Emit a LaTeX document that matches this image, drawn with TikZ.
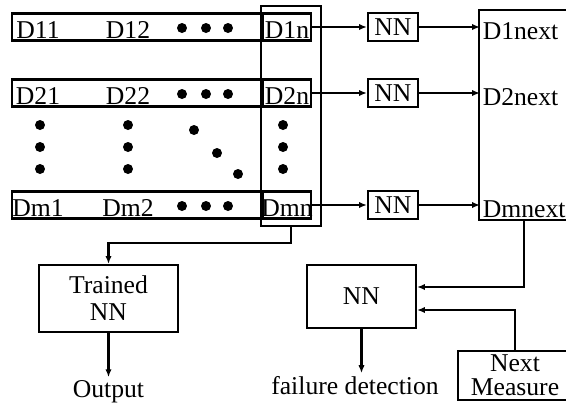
\documentclass[tikz,border=0pt]{standalone}
\usepackage{fontspec}
\setmainfont{Liberation Serif}
\usetikzlibrary{arrows.meta}
\newcommand{\lbfont}{\fontsize{14.6pt}{17pt}\selectfont}
\tikzset{
  rowbox/.style={draw, rectangle, minimum width=5.02cm, minimum height=0.54cm, inner sep=0pt},
  endbox/.style={draw, rectangle, minimum width=0.96cm, minimum height=0.54cm, inner sep=0pt},
  nnbox/.style={draw, rectangle, minimum width=1.0cm, minimum height=0.56cm, inner sep=0pt, font=\lbfont},
  box/.style={draw, rectangle, align=center, inner sep=0pt},
  cell/.style={anchor=base, inner sep=0pt, font=\lbfont},
  lbl/.style={inner sep=1pt, font=\lbfont},
  arr/.style={-{Latex[length=4.5pt,width=3.6pt]}},
}

\begin{document}
\begin{tikzpicture}[x=0.02cm, y=-0.02cm, line width=1.2pt]
\useasboundingbox (0,0) rectangle (566,407);
% last column and the predicted values
\node[draw, minimum width=1.2cm, minimum height=4.4cm, inner sep=0pt] (col) at (291,116) {};
\draw (567,10) -| (479,220) -- (567,220);
\foreach \rw/\yy in {1/27, 2/93, m/205} {
  \node[rowbox] (row\rw) at (137.5,\yy) {};
  \node[endbox] (dn\rw) at (287,\yy) {};
  \node[cell] at (38,\yy+11) {D\rw1};
  \node[cell] at (128,\yy+11) {D\rw2};
  \node[cell] at (287,\yy+11) {D\rw n};
  \foreach \xd in {182,206,228} \fill (\xd,\yy+1) circle (0.1cm);
  \node[nnbox] (nn\rw) at (393,\yy) {NN};
  \node[lbl, anchor=base west] (nx\rw) at (480,\yy+12) {D\rw next};
  \draw[arr] (dn\rw) -- (nn\rw);
  \draw[arr] (nn\rw) -- (nn\rw -| nx\rw.west);
}
\foreach \xd in {40,128,283} \foreach \yd in {125,147,169} \fill (\xd,\yd) circle (0.1cm);
\foreach \xd/\yd in {194/130, 217/153, 238/174} \fill (\xd,\yd) circle (0.1cm);
% lower part
\node[box, minimum width=2.78cm, minimum height=1.34cm, font=\fontsize{14.6pt}{15.4pt}\selectfont] (trained) at (108.5,298.5) {Trained\\NN};
\node[lbl, anchor=base] (output) at (108.5,397) {Output};
\node[box, minimum width=2.18cm, minimum height=1.26cm, font=\lbfont] (nnbig) at (361.5,296.5) {NN};
\node[lbl, anchor=base] (fail) at (355,394) {failure detection};
\node[box, minimum width=2.28cm, minimum height=0.98cm, font=\fontsize{14.6pt}{13.7pt}\selectfont] (nextm) at (515,375.5) {Next\\Measure};
\draw[arr] (col.south) -- ++(0,16) -| (trained.north);
\draw[arr] (trained) -- (output);
\draw[arr] (nnbig) -- (nnbig |- fail.north);
\draw[arr] (nxm.south) |- ([yshift=0.19cm]nnbig.east);
\draw[arr] (nextm.north) |- ([yshift=-0.27cm]nnbig.east);
\end{tikzpicture}
\end{document}
